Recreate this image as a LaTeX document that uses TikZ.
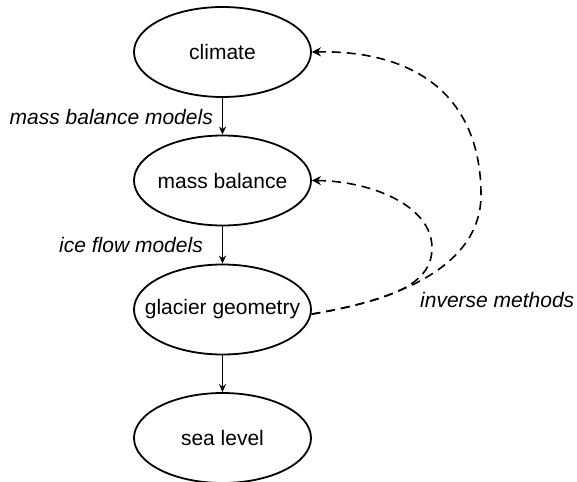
\documentclass[tikz,border=0pt]{standalone}
\usepackage{fontspec}
\setmainfont{Liberation Sans}
\usetikzlibrary{shapes.geometric,arrows.meta}
\begin{document}
\begin{tikzpicture}[x=1pt,y=-1pt,
  box/.style={draw, ellipse, line width=1.8pt, minimum width=177pt, minimum height=90pt, inner sep=0pt, font=\fontsize{21}{25}\selectfont},
  flow/.style={line width=1.6pt, -{Stealth[length=8pt,width=7pt]}},
  inv/.style={line width=1.6pt, dash pattern=on 9pt off 6pt, -{Stealth[length=9pt,width=9pt]}},
  lbl/.style={font=\fontsize{21}{25}\selectfont\itshape, inner sep=0pt}]
\useasboundingbox (0,0) rectangle (577,481);
\node[box] (c) at (222.5,52) {\makebox[0pt]{climate}};
\node[box] (m) at (222.5,180.5) {\makebox[0pt]{mass balance}};
\node[box] (g) at (222.5,309.5) {\makebox[0pt]{glacier geometry}};
\node[box] (s) at (222.5,438) {\makebox[0pt]{sea level}};
\draw[flow] (c.south) -- (m.north);
\draw[flow] (m.south) -- (g.north);
\draw[flow] (g.south) -- (s.north);
\node[lbl, anchor=east] (l1) at (213,117) {mass balance models};
\node[lbl, anchor=east] (l2) at (203,245) {ice flow models};
\node[lbl, anchor=west] (l3) at (420,300) {inverse methods};
\draw[inv] (g.-3) .. controls (400,300) and (481,265) .. (481,195)
  .. controls (481,100) and (420,50) .. (c.east);
\draw[inv] (g.-3) .. controls (390,300) and (432,285) .. (432,248)
  .. controls (432,205) and (370,181) .. (m.east);
\end{tikzpicture}
\end{document}
